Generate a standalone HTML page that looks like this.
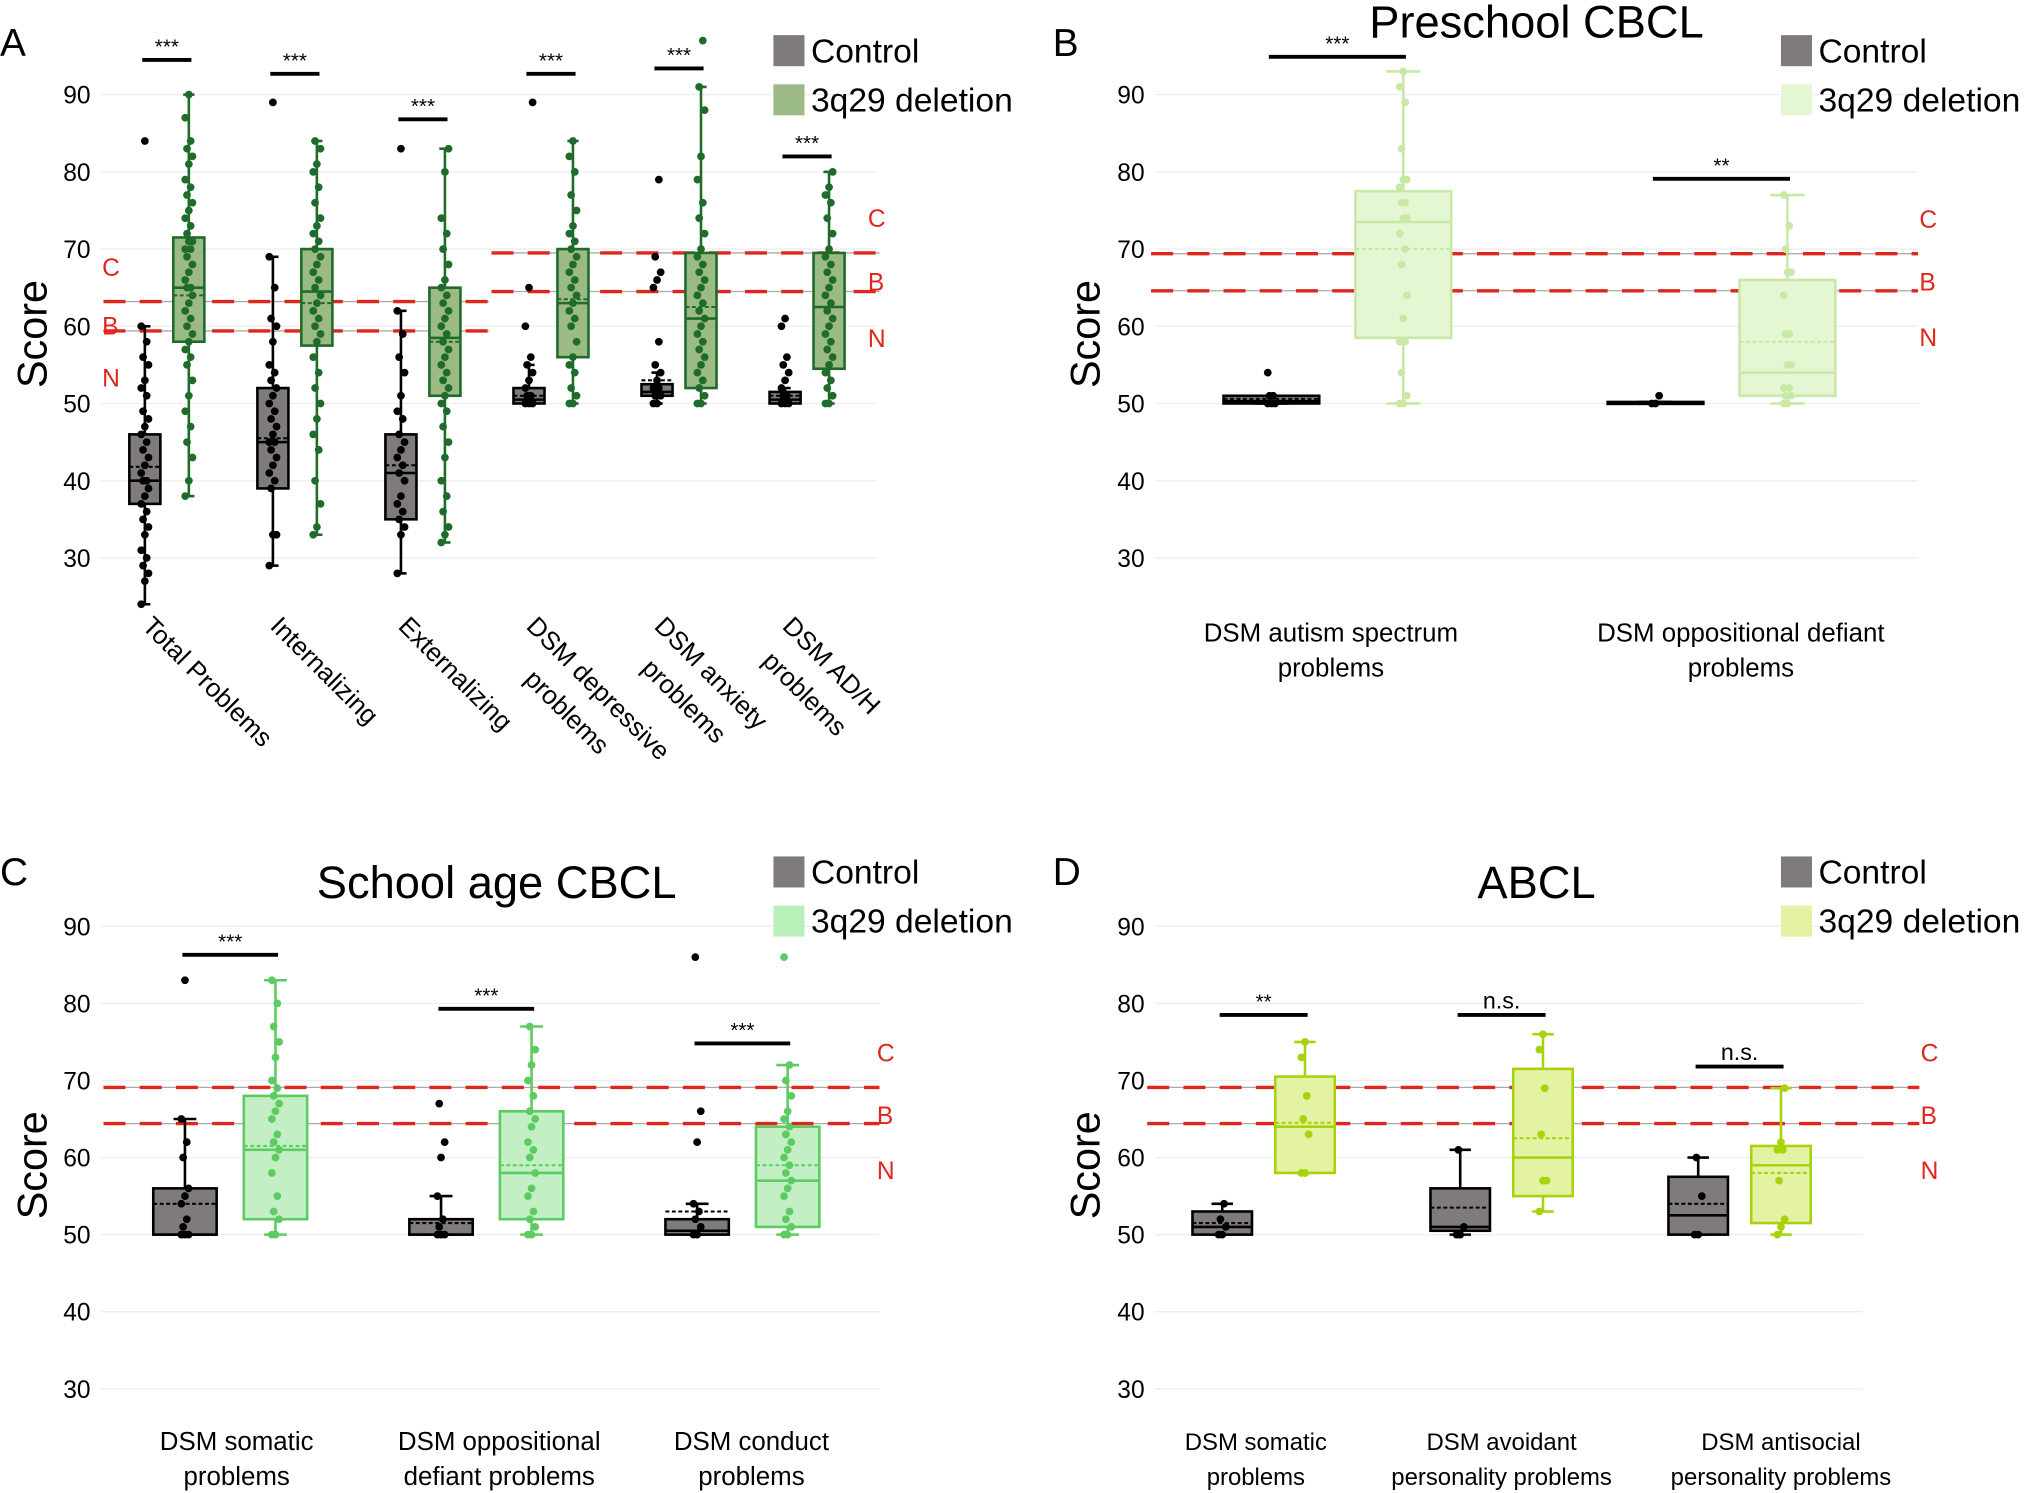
<!DOCTYPE html>
<html><head><meta charset="utf-8"><title>3q29 CBCL/ABCL box plots</title>
<style>
html,body{margin:0;padding:0;background:#fff;}
svg{display:block;font-family:"Liberation Sans",sans-serif;}
</style></head>
<body>
<svg id="fig" width="2028" height="1493" viewBox="0 0 1568 1154" xmlns="http://www.w3.org/2000/svg"></svg>
<script>
// ---------- DATA ----------
// stats: [min, q1, median, q3, max, mean]
const aCats = [["Total Problems"],["Internalizing"],["Externalizing"],["DSM depressive","problems"],["DSM anxiety","problems"],["DSM AD/H","problems"]];
const aCtrlStats = [[24,37,40,46,60,41.8],[29,39,45,52,69,45.5],[28,35,41,46,62,42],[50,50,50.5,52,55,51],[50,51,51.5,52.5,54,53],[50,50,50.5,51.5,52,51]];
const aDelStats = [[38,58,65,71.5,90,64],[33,57.5,64.5,70,84,63],[32,51,58.5,65,83,58],[50,56,63,70,84,63.5],[50,52,61,69.5,91,62.5],[50,54.5,62.5,69.5,80,62.5]];
const aCtrlPts = [[24,27,28,29,30,31,33,34,35,36,37,38,39,40,40,41,42,43,44,45,46,47,48,49,51,52,53,55,56,58,60,84],[29,33,33,39,40,41,42,43,44,45,45,46,47,48,49,50,51,52,53,54,55,58,60,61,65,69,89],[28,33,34,35,36,37,38,40,41,42,43,44,45,46,48,49,51,54,56,59,62,83],[50,50,50,51,51,52,53,54,55,56,60,65,89],[50,50,51,51,52,52,53,54,55,58,65,66,67,69,79],[50,50,50,51,51,52,53,54,55,56,60,61]];
const aDelPts = [[38,40,43,45,47,49,51,53,55,56,57,58,59,60,61,62,63,64,65,65,66,67,68,69,70,70,71,71,72,73,74,75,76,77,78,79,81,82,83,84,87,90],[33,34,37,40,44,46,48,50,52,54,56,58,59,60,61,62,63,64,65,66,67,68,69,70,71,72,73,74,76,78,80,81,83,84],[32,33,34,36,38,40,43,45,47,49,50,51,52,53,54,55,56,57,58,59,60,61,62,63,64,65,66,68,70,72,74,80,83],[50,50,51,52,54,55,56,58,60,61,62,63,64,65,66,67,68,69,70,71,72,73,75,77,80,82,84],[50,50,51,52,53,54,55,56,57,58,59,60,61,62,63,64,65,66,67,68,69,70,72,74,76,79,82,88,91,97],[50,50,51,52,53,54,55,56,57,58,59,60,61,62,63,64,65,66,67,68,69,70,72,74,76,77,78,80]];
const aSig = ["***","***","***","***","***","***"];
const aSigVal = [94.5,92.7,86.8,92.7,93.4,82];

const bCats = [["DSM autism spectrum","problems"],["DSM oppositional defiant","problems"]];
const bCtrlStats = [[50,50,50.3,51,51,50.6],[50,50,50,50.2,50.2,50.1]];
const bDelStats = [[50,58.5,73.5,77.5,93,70],[50,51,54,66,77,58]];
const bCtrlPts = [[50,50,50,51,51,54],[50,50,51]];
const bDelPts = [[50,50,51,54,58,58,61,64,68,70,72,74,74,76,76,78,79,79,83,89,91,93],[50,50,51,51,52,52,55,55,59,59,64,67,67,70,73,77]];
const bSig = ["***","**"];
const bSigVal = [94.9,79.1];

const cCats = [["DSM somatic","problems"],["DSM oppositional","defiant problems"],["DSM conduct","problems"]];
const cCtrlStats = [[50,50,50,56,65,54],[50,50,50,52,55,51.5],[50,50,50.5,52,54,53]];
const cDelStats = [[50,52,61,68,83,61.5],[50,52,58,66,77,59],[50,51,57,64,72,59]];
const cCtrlPts = [[50,50,50,51,52,54,55,56,60,62,65,83],[50,50,50,51,52,55,60,62,67],[50,50,51,52,53,54,62,66,86]];
const cDelPts = [[50,50,52,53,55,58,60,61,62,63,65,66,67,68,69,70,73,75,77,80,83],[50,50,51,52,53,55,56,58,60,61,62,64,65,66,68,70,72,74,77],[50,50,51,52,53,55,56,57,58,59,60,61,62,63,64,65,66,68,70,72,86]];
const cSig = ["***","***","***"];
const cSigVal = [86.3,79.3,74.8];

const dCats = [["DSM somatic","problems"],["DSM avoidant","personality problems"],["DSM antisocial","personality problems"]];
const dCtrlStats = [[50,50,51,53,54,51.5],[50,50.5,51,56,61,53.5],[50,50,52.5,57.5,60,54]];
const dDelStats = [[58,58,64,70.5,75,64.5],[53,55,60,71.5,76,62.5],[50,51.5,59,61.5,69,58]];
const dCtrlPts = [[50,50,51,52,54],[50,50,51,61],[50,50,55,60]];
const dDelPts = [[58,58,63,65,68,73,75],[53,57,57,63,69,74,76],[50,51,52,57,61,61,62,69]];
const dSig = ["**","n.s.","n.s."];
const dSigVal = [78.5,78.5,71.8];

const yTicks = [30,40,50,60,70,80,90];

// ---------- DRAW ----------
const NS = "http://www.w3.org/2000/svg";
const svg = document.getElementById("fig");
function mk(tag, attrs, parent){
  const e = document.createElementNS(NS, tag);
  for (const k in attrs) e.setAttribute(k, attrs[k]);
  (parent||svg).appendChild(e);
  return e;
}

function panel(P){
  const g = mk("g", {});
  
  
  const y = v => P.y90 + (90 - v) * P.k;
  const L = mk("text", {x:P.lx, y:P.ly, "font-size":30}, g); L.textContent = P.letter;
  
  
  if (P.title){
    const t = mk("text", {x:P.tx, y:P.ty, "font-size":35, "text-anchor":"middle"}, g); t.textContent = P.title;
    
    
  }
  yTicks.forEach(v => {
    const gl = mk("line", {x1:P.gx0, x2:P.gx1, y1:y(v), y2:y(v), stroke:"#eeeeee", "stroke-width":1}, g);
    
    
    const tl = mk("text", {x:P.gx0-8, y:y(v)+7, "font-size":19, "text-anchor":"end"}, g); tl.textContent = v;
    
    
  });
  const st = mk("text", {x:0, y:0, "font-size":32, "text-anchor":"middle", transform:`translate(${P.lx+36},${y(59)}) rotate(-90)`}, g);
  st.textContent = "Score";
  
  
  P.thr.forEach(T => {
    [T.c, T.b].forEach(v => {
      mk("line", {x1:T.x0, x2:T.x1, y1:y(v), y2:y(v), stroke:"#aaaaaa", "stroke-width":1}, g);
      const rl = mk("line", {x1:T.x0, x2:T.x1, y1:y(v), y2:y(v), stroke:"#e0251b", "stroke-width":2.6, "stroke-dasharray":"17,11"}, g);
      
      
    });
    [["C", T.c + 4.5],["B", (T.c+T.b)/2 - 1.2],["N", T.b - 6]].forEach(([s,v]) => {
      const tt = mk("text", {x:T.lab, y:y(v)+7, "font-size":19, fill:"#e0251b"}, g); tt.textContent = s;
      
      
    });
  });
  function box(cx, st, pts, col, fill, w, ptcol, nm){
    const bg = mk("g", {}, g);
    
    
    mk("line", {x1:cx, x2:cx, y1:y(st[0]), y2:y(st[1]), stroke:col, "stroke-width":2}, bg);
    mk("line", {x1:cx, x2:cx, y1:y(st[3]), y2:y(st[4]), stroke:col, "stroke-width":2}, bg);
    mk("line", {x1:cx-w*0.18, x2:cx+w*0.18, y1:y(st[0]), y2:y(st[0]), stroke:col, "stroke-width":2}, bg);
    mk("line", {x1:cx-w*0.18, x2:cx+w*0.18, y1:y(st[4]), y2:y(st[4]), stroke:col, "stroke-width":2}, bg);
    mk("rect", {x:cx-w/2, y:y(st[3]), width:w, height:Math.max(1.5,y(st[1])-y(st[3])), fill:fill, stroke:col, "stroke-width":2}, bg);
    mk("line", {x1:cx-w/2, x2:cx+w/2, y1:y(st[2]), y2:y(st[2]), stroke:col, "stroke-width":2}, bg);
    mk("line", {x1:cx-w/2, x2:cx+w/2, y1:y(st[5]), y2:y(st[5]), stroke:col, "stroke-width":1.6, "stroke-dasharray":"3,2"}, bg);
    pts.forEach((v,i) => {
      const dx = ((i*7)%5 - 2) * 1.4;
      const c = mk("circle", {cx:cx+dx, cy:y(v), r:3, fill:ptcol}, bg);
      
      
    });
  }
  P.cats.forEach((cat, i) => {
    const gc = P.c0 + i * P.step;
    const xc = gc - P.off, xd = gc + P.off;
    box(xc, P.cs[i], P.cp[i], "#000", "#7f7b7b", P.bw, "#000", "control-box");
    box(xd, P.ds[i], P.dp[i], P.dcol, P.dfill, P.bw, P.dpt, "deletion-box");
    const sb = mk("line", {x1:xc-2, x2:xd+2, y1:y(P.sigv[i]), y2:y(P.sigv[i]), stroke:"#000", "stroke-width":3}, g);
    
    
    const ss = mk("text", {x:gc, y:y(P.sigv[i])-5, "font-size":P.sig[i]==="n.s."?18:16, "text-anchor":"middle"}, g);
    ss.textContent = P.sig[i];
    
    
    if (P.rot){
      const lo = P.rotOff[i];
      const tx = mk("text", {x:0, y:0, "font-size":20, transform:`translate(${gc-20},${P.xly}) rotate(45)`}, g);
      
      
      cat.forEach((line, j) => {
        const ts = mk("tspan", {x: j ? lo : 0, dy: j ? 30 : 0}, tx); ts.textContent = line;
      });
    } else {
      const lx = gc + P.lxo[i];
      const tx = mk("text", {x:lx, y:P.xly, "font-size":P.xfs, "text-anchor":"middle"}, g);
      
      
      cat.forEach((line, j) => {
        const ts = mk("tspan", {x:lx, dy: j ? 27 : 0}, tx); ts.textContent = line;
      });
    }
  });
  const lg = mk("g", {}, g);
  
  
  [["Control","#7f7b7b",0],["3q29 deletion",P.legfill,38]].forEach(([s,c,o]) => {
    mk("rect", {x:P.legx, y:P.legy+o, width:24, height:24, fill:c}, lg);
    const lt = mk("text", {x:P.legx+29, y:P.legy+o+21, "font-size":26}, lg); lt.textContent = s;
    
    
  });
}

panel({name:"panel-a", letter:"A", lx:0, ly:43, y90:73, k:5.97, gx0:78, gx1:678,
  thr:[{c:63.2,b:59.4,x0:80,x1:378,lab:79},{c:69.5,b:64.5,x0:380,x1:680,lab:671}],
  cats:aCats, cs:aCtrlStats, ds:aDelStats, cp:aCtrlPts, dp:aDelPts, sig:aSig, sigv:aSigVal,
  c0:129, step:99, off:17, bw:24, dcol:"#1f6b2a", dfill:"#9cba85", dpt:"#1f6b2a",
  rot:true, xly:485, rotOff:[0,0,0,28,16,8], legx:598, legy:27, legfill:"#9cba85"});

panel({name:"panel-b", letter:"B", lx:814, ly:43, title:"Preschool CBCL", tx:1188, ty:29, y90:73, k:5.97, gx0:893, gx1:1483,
  thr:[{c:69.4,b:64.6,x0:890,x1:1483,lab:1484}],
  cats:bCats, cs:bCtrlStats, ds:bDelStats, cp:bCtrlPts, dp:bDelPts, sig:bSig, sigv:bSigVal,
  c0:1034, step:297, off:51, bw:74, dcol:"#c8e9a5", dfill:"#e5f6d3", dpt:"#c8e9a5",
  rot:false, xly:496, lxo:[-5,15], xfs:20, legx:1377, legy:27, legfill:"#e5f6d3"});

panel({name:"panel-c", letter:"C", lx:0, ly:684, title:"School age CBCL", tx:384, ty:694, y90:716, k:5.96, gx0:78, gx1:680,
  thr:[{c:69.1,b:64.4,x0:80,x1:680,lab:678}],
  cats:cCats, cs:cCtrlStats, ds:cDelStats, cp:cCtrlPts, dp:cDelPts, sig:cSig, sigv:cSigVal,
  c0:178, step:198, off:35, bw:49, dcol:"#5ccc62", dfill:"#c4efc4", dpt:"#5ccc62",
  rot:false, xly:1121, lxo:[5,10,7], xfs:20, legx:598, legy:662, legfill:"#b9f0b9"});

panel({name:"panel-d", letter:"D", lx:814, ly:684, title:"ABCL", tx:1188, ty:694, y90:716, k:5.96, gx0:893, gx1:1440,
  thr:[{c:69.1,b:64.4,x0:887,x1:1484,lab:1485}],
  cats:dCats, cs:dCtrlStats, ds:dDelStats, cp:dCtrlPts, dp:dDelPts, sig:dSig, sigv:dSigVal,
  c0:977, step:184, off:32, bw:46, dcol:"#a7d30c", dfill:"#e4f2a3", dpt:"#a7d30c",
  rot:false, xly:1121, lxo:[-6,0,32], xfs:18.5, legx:1377, legy:662, legfill:"#e4f2a3"});
</script>
</body></html>
